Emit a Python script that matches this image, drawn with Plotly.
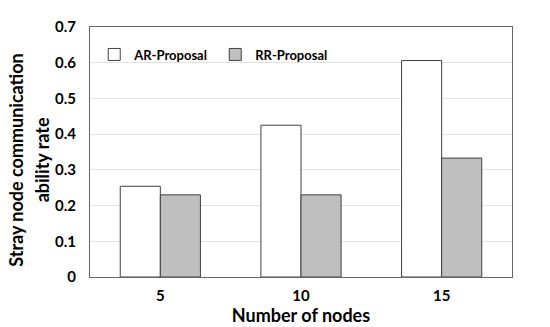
import plotly.graph_objects as go

nodes = ["5", "10", "15"]
ar_proposal = [0.254, 0.425, 0.606]
rr_proposal = [0.230, 0.230, 0.333]

fig = go.Figure()
fig.add_bar(
    x=nodes, y=ar_proposal, name="AR-Proposal",
    marker=dict(color="white", line=dict(color="#404040", width=1)),
)
fig.add_bar(
    x=nodes, y=rr_proposal, name="RR-Proposal",
    marker=dict(color="#bfbfbf", line=dict(color="#404040", width=1)),
)

font_family = "Lato, Open Sans, sans-serif"

fig.update_layout(
    width=550, height=327,
    margin=dict(l=90, r=38, t=27, b=50),
    paper_bgcolor="white", plot_bgcolor="white",
    barmode="group", bargap=0.43, bargroupgap=0,
    font=dict(family=font_family, color="black"),
    legend=dict(
        orientation="h", x=0.01, y=0.89, xanchor="left", yanchor="middle",
        font=dict(size=13, family=font_family, weight="bold"),
        bgcolor="rgba(0,0,0,0)", entrywidth=76, itemwidth=30,
        traceorder="normal",
    ),
)

# two-line y title, wider line spacing than plotly's default
for txt, xpos in [("Stray node communication", -0.176), ("ability rate", -0.113)]:
    fig.add_annotation(
        text=txt, xref="paper", yref="paper", x=xpos, y=0.468,
        textangle=-90, showarrow=False, xanchor="center", yanchor="middle",
        font=dict(size=18, weight="bold"),
    )

fig.update_xaxes(
    automargin=False,
    showline=True, linecolor="#666666", linewidth=1, mirror=True,
    ticks="", tickfont=dict(size=15, weight="bold"), ticklabelstandoff=5,
    title=dict(text="Number of nodes", font=dict(size=18, weight="bold"), standoff=6),
)
fig.update_yaxes(
    automargin=False,
    range=[0, 0.7], dtick=0.1, showgrid=True, gridcolor="#e3e3e3",
    showline=True, linecolor="#666666", linewidth=1, mirror=True,
    zeroline=False, ticks="", tickfont=dict(size=15, weight="bold"),
    ticklabelstandoff=10,
)

# drop the default body margin so the figure sits at the page corner
fig.write_html(
    "out.html",
    config={"displayModeBar": False},
    post_script="document.body.style.margin='0';",
)
